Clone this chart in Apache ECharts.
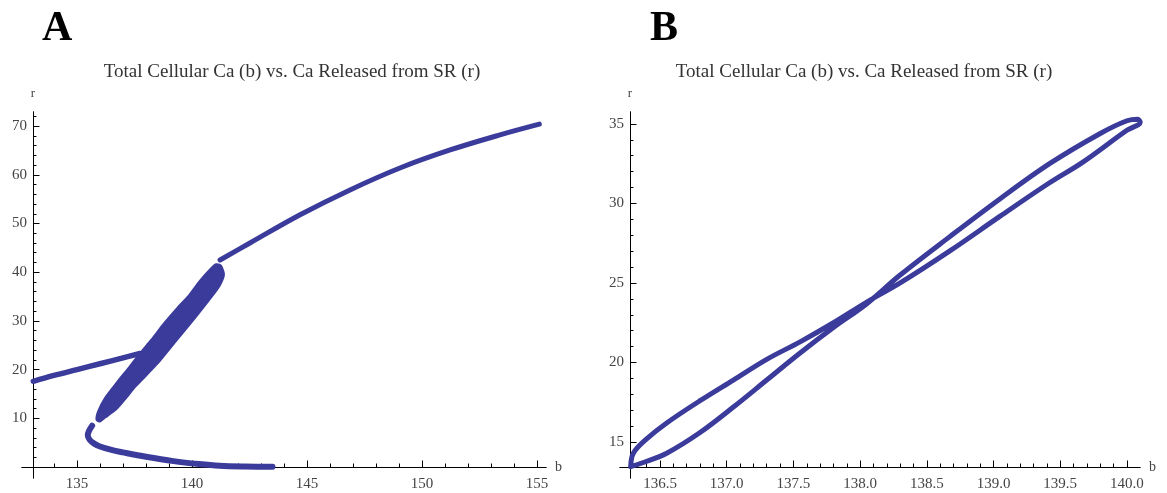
<!DOCTYPE html>
<html><head><meta charset="utf-8">
<script src="https://cdn.jsdelivr.net/npm/echarts@6/dist/echarts.min.js"></script>
<style>html,body{margin:0;padding:0;background:#fff}#c{width:1167px;height:493px}</style>
</head><body><div id="c"></div><script>
// ---------- Panel A data (b, r) ----------
const aLeftB  = [133.10, 134.0, 135.0, 136.0, 137.0, 137.74];
const aLeftR  = [17.6, 18.8, 20.0, 21.2, 22.4, 23.3];
const aBandB  = [135.86, 135.93, 136.22, 136.72, 137.30, 137.74, 138.24, 138.80, 139.40, 139.84, 140.35, 140.80, 141.05,
                 141.25, 141.38,
                 141.20, 140.85, 140.10, 139.33, 138.50, 137.52, 137.16, 136.72, 136.22, 136.00];
const aBandR  = [9.7, 11.4, 14.1, 17.2, 20.6, 23.3, 26.1, 29.5, 32.8, 35.0, 38.2, 40.6, 41.6,
                 41.3, 39.6,
                 37.3, 35.0, 30.5, 26.1, 21.3, 16.5, 14.4, 12.0, 10.2, 9.4];
const aLowB   = [135.66, 135.52, 135.47, 135.55, 135.75, 136.0, 136.5, 137.0, 138.0, 139.2, 140.3, 141.2, 142.3, 143.5];
const aLowR   = [8.5, 7.4, 6.5, 5.6, 4.8, 4.2, 3.5, 3.0, 2.1, 1.2, 0.6, 0.25, 0.1, 0.05];
const aUpB    = [141.22, 142.52, 144.70, 146.87, 149.04, 151.22, 153.39, 155.10];
const aUpR    = [42.5, 46.0, 51.8, 56.9, 61.4, 65.1, 68.2, 70.4];

// ---------- Panel B data (closed loop) ----------
const bLoopB = [136.28, 136.37, 136.55, 136.80, 137.05, 137.30, 137.55, 137.80, 138.05,
                138.30, 138.67, 139.05, 139.42, 139.80, 140.00, 140.08, 140.10,
                140.00, 139.67, 139.42, 139.05, 138.67, 138.30, 138.05,
                137.80, 137.55, 137.30, 137.05, 136.80, 136.55, 136.40, 136.30, 136.28];
const bLoopR = [13.45, 13.7, 14.3, 15.6, 17.2, 18.9, 20.6, 22.2, 23.7,
                25.5, 27.9, 30.3, 32.5, 34.4, 35.2, 35.3, 35.1,
                34.6, 32.6, 31.3, 29.2, 27.0, 25.0, 23.8,
                22.5, 21.3, 20.2, 18.9, 17.6, 16.2, 15.2, 14.3, 13.45];

// ---------- Tick values ----------
const aXMajor = [135, 140, 145, 150, 155];
const aXMinor = [134, 135, 136, 137, 138, 139, 140, 141, 142, 143, 144, 145, 146, 147, 148, 149, 150, 151, 152, 153, 154, 155];
const aYMajor = [10, 20, 30, 40, 50, 60, 70];
const aYMinor = [2, 4, 6, 8, 10, 12, 14, 16, 18, 20, 22, 24, 26, 28, 30, 32, 34, 36, 38, 40, 42, 44, 46, 48, 50, 52, 54, 56, 58, 60, 62, 64, 66, 68, 70, 72];
const bXMajor = [136.5, 137.0, 137.5, 138.0, 138.5, 139.0, 139.5, 140.0];
const bXMinor = [136.3, 136.4, 136.5, 136.6, 136.7, 136.8, 136.9, 137.0, 137.1, 137.2, 137.3, 137.4, 137.5, 137.6, 137.7, 137.8, 137.9,
                 138.0, 138.1, 138.2, 138.3, 138.4, 138.5, 138.6, 138.7, 138.8, 138.9, 139.0, 139.1, 139.2, 139.3, 139.4, 139.5,
                 139.6, 139.7, 139.8, 139.9, 140.0];
const bYMajor = [15, 20, 25, 30, 35];
const bYMinor = [14, 15, 16, 17, 18, 19, 20, 21, 22, 23, 24, 25, 26, 27, 28, 29, 30, 31, 32, 33, 34, 35];

const TITLE = 'Total Cellular Ca (b) vs. Ca Released from SR (r)';
const COLOR = '#3b3b9b';
const SERIF = 'Liberation Serif';

const zip = (xs, ys) => xs.map((x, i) => [x, ys[i]]);

function xAxes(grid, min, max, minor, major, offset, fmt) {
  const line = {onZero: false, lineStyle: {color: '#000', width: 1}};
  const base = {type: 'value', gridIndex: grid, min: min, max: max, position: 'bottom', offset: offset,
    splitLine: {show: false}, axisLine: line};
  return [
    Object.assign({}, base, {axisTick: {inside: true, length: 3.5, customValues: minor, lineStyle: {color: '#000'}},
      axisLabel: {show: false}}),
    Object.assign({}, base, {axisTick: {inside: true, length: 6.5, customValues: major, lineStyle: {color: '#000'}},
      axisLabel: {customValues: major, formatter: fmt, margin: 10, color: '#444', fontFamily: SERIF, fontSize: 15},
      name: 'b', nameLocation: 'end', nameGap: 9,
      nameTextStyle: {fontFamily: SERIF, fontSize: 14, color: '#444', verticalAlign: 'middle'}})
  ];
}
function yAxes(grid, min, max, minor, major, offset) {
  const base = {type: 'value', gridIndex: grid, min: min, max: max, position: 'left', offset: offset,
    splitLine: {show: false}, axisLine: {onZero: false, lineStyle: {color: '#000', width: 1}}};
  return [
    Object.assign({}, base, {axisTick: {inside: true, length: 3.5, customValues: minor, lineStyle: {color: '#000'}},
      axisLabel: {show: false}}),
    Object.assign({}, base, {axisTick: {inside: true, length: 6.5, customValues: major, lineStyle: {color: '#000'}},
      axisLabel: {customValues: major, margin: 6, color: '#444', fontFamily: SERIF, fontSize: 15},
      name: 'r', nameLocation: 'end', nameGap: 12,
      nameTextStyle: {fontFamily: SERIF, fontSize: 13, color: '#444', align: 'center'}})
  ];
}

const lineSeries = (xi, yi, data, w) => ({
  type: 'line', xAxisIndex: xi, yAxisIndex: yi, data: data, smooth: 0.35, showSymbol: false,
  lineStyle: {color: COLOR, width: w, cap: 'round', join: 'round'}, silent: true, animation: false
});

const option = {
  backgroundColor: '#ffffff',
  animation: false,
  title: [
    {text: 'A', left: 37, top: 3, textStyle: {fontFamily: SERIF, fontWeight: 'bold', fontSize: 42, color: '#000'}},
    {text: 'B', left: 645, top: 3, textStyle: {fontFamily: SERIF, fontWeight: 'bold', fontSize: 42, color: '#000'}},
    {text: TITLE, left: 287, top: 58, textAlign: 'center', textStyle: {fontFamily: SERIF, fontWeight: 'normal', fontSize: 19, color: '#333'}},
    {text: TITLE, left: 859, top: 58, textAlign: 'center', textStyle: {fontFamily: SERIF, fontWeight: 'normal', fontSize: 19, color: '#333'}}
  ],
  grid: [
    {left: 22, top: 112, width: 524, height: 366, outerBoundsMode: 'none', containLabel: false},
    {left: 620, top: 112, width: 520, height: 366, outerBoundsMode: 'none', containLabel: false}
  ],
  xAxis: [].concat(
    xAxes(0, 132.61, 155.39, aXMinor, aXMajor, -11, v => String(v)),
    xAxes(1, 136.2, 140.098, bXMinor, bXMajor, -11, v => v.toFixed(1))
  ),
  yAxis: [].concat(
    yAxes(0, -2.26, 72.9, aYMinor, aYMajor, -11),
    yAxes(1, 12.74, 35.75, bYMinor, bYMajor, -10)
  ),
  series: [
    lineSeries(0, 0, zip(aLeftB, aLeftR), 5.5),
    {
      type: 'custom', xAxisIndex: 0, yAxisIndex: 0, silent: true, animation: false,
      data: [[aBandB[0], aBandR[0]]],
      renderItem: function (params, api) {
        const pts = aBandB.map((b, i) => api.coord([b, aBandR[i]]));
        return {type: 'polygon', shape: {points: pts, smooth: 0.2},
          style: {fill: COLOR, stroke: COLOR, lineWidth: 2.5, lineJoin: 'round'}};
      }
    },
    lineSeries(0, 0, zip(aLowB, aLowR), 6),
    lineSeries(0, 0, zip(aUpB, aUpR), 5),
    lineSeries(2, 2, zip(bLoopB, bLoopR), 5)
  ]
};

const chart = echarts.init(document.getElementById('c'), null, {renderer: 'canvas'});
chart.setOption(option);
</script></body></html>
